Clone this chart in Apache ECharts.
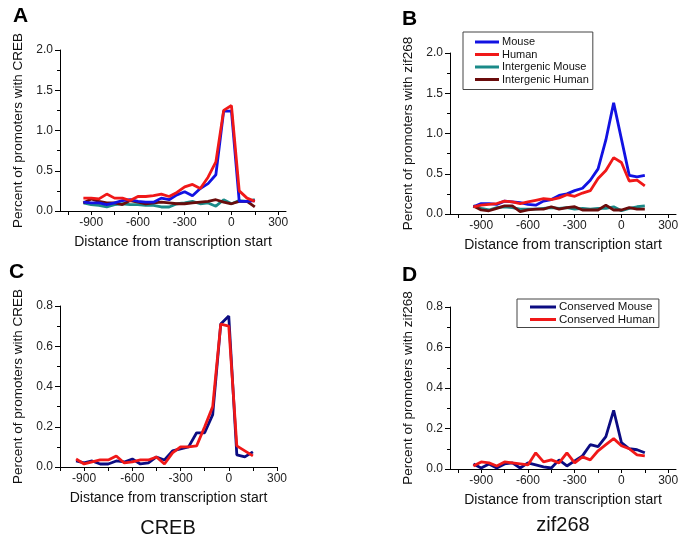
<!DOCTYPE html>
<html>
<head>
<meta charset="utf-8">
<script src="https://cdn.jsdelivr.net/npm/echarts@6/dist/echarts.min.js"></script>
<style>
  html, body { margin: 0; padding: 0; background: #fff; }
  #chart { width: 685px; height: 545px; }
</style>
</head>
<body>
<div id="chart"></div>
<script>
// Distance from transcription start (bp)
const distances = [-950,-900,-850,-800,-750,-700,-650,-600,-550,-500,-450,-400,-350,-300,-250,-200,-150,-100,-50,0,50,100,150];

// Panel A: CREB
const aMouse   = [0.11,0.10,0.10,0.08,0.10,0.13,0.14,0.12,0.11,0.11,0.16,0.14,0.20,0.24,0.19,0.28,0.34,0.45,1.24,1.24,0.12,0.12,0.13];
const aHuman   = [0.16,0.16,0.15,0.21,0.16,0.16,0.13,0.18,0.18,0.19,0.21,0.18,0.23,0.30,0.33,0.28,0.42,0.61,1.25,1.31,0.25,0.16,0.12];
const aIgMouse = [0.10,0.08,0.07,0.05,0.08,0.09,0.08,0.08,0.07,0.07,0.05,0.05,0.09,0.10,0.12,0.09,0.10,0.06,0.14,0.09,0.13,0.12,0.14];
const aIgHuman = [0.10,0.15,0.12,0.10,0.10,0.08,0.13,0.11,0.09,0.10,0.11,0.10,0.09,0.09,0.10,0.11,0.12,0.14,0.11,0.09,0.12,0.12,0.05];

// Panel B: zif268
const bMouse   = [0.09,0.13,0.13,0.12,0.16,0.15,0.14,0.12,0.11,0.16,0.18,0.23,0.25,0.29,0.32,0.42,0.56,0.92,1.38,0.93,0.48,0.46,0.48];
const bHuman   = [0.09,0.11,0.12,0.13,0.16,0.15,0.13,0.15,0.17,0.19,0.18,0.20,0.24,0.22,0.26,0.29,0.44,0.54,0.70,0.64,0.41,0.42,0.35];
const bIgMouse = [0.10,0.07,0.05,0.08,0.09,0.08,0.06,0.06,0.06,0.07,0.08,0.07,0.08,0.06,0.07,0.06,0.07,0.07,0.09,0.04,0.07,0.09,0.10];
const bIgHuman = [0.10,0.05,0.04,0.07,0.10,0.10,0.03,0.05,0.06,0.06,0.09,0.06,0.08,0.09,0.05,0.05,0.05,0.11,0.05,0.05,0.08,0.06,0.06];

// Panel C: conserved CREB
const cMouse = [0.030,0.020,0.030,0.015,0.015,0.030,0.025,0.040,0.015,0.020,0.050,0.035,0.080,0.090,0.100,0.170,0.170,0.260,0.710,0.750,0.060,0.050,0.075];
const cHuman = [0.040,0.015,0.025,0.035,0.035,0.055,0.020,0.025,0.035,0.035,0.050,0.015,0.070,0.100,0.100,0.105,0.200,0.300,0.710,0.700,0.105,0.080,0.055];

// Panel D: conserved zif268
const dMouse = [0.025,0.005,0.025,0.005,0.025,0.030,0.005,0.030,0.020,0.010,0.005,0.045,0.015,0.040,0.065,0.120,0.110,0.160,0.290,0.130,0.100,0.095,0.080];
const dHuman = [0.015,0.035,0.030,0.015,0.035,0.030,0.025,0.020,0.080,0.035,0.045,0.030,0.080,0.030,0.060,0.045,0.090,0.120,0.150,0.115,0.100,0.070,0.065];

// Tick labels
const xLabelValues = [-900,-600,-300,0,300];
const xTickValues = [-1050,-900,-750,-600,-450,-300,-150,0,150,300];

const legendB = ['Mouse','Human','Intergenic Mouse','Intergenic Human'];
const legendD = ['Conserved Mouse','Conserved Human'];

const COL = { blue:'#1212e2', red:'#f01818', teal:'#1a8a88', dred:'#6a0c0c', navy:'#0c0c82' };
const FONT = '"Liberation Sans", Arial, sans-serif';

function pairs(ys){ return distances.map((x,i)=>[x, ys[i]]); }

function xAxisCfg(idx, min, max){
  return {
    type:'value', gridIndex: idx, min: min, max: max,
    name: 'Distance from transcription start', nameLocation:'middle', nameGap: 24,
    nameTextStyle:{ fontFamily: FONT, fontSize: 14, color:'#111' },
    axisLine:{ show:true, onZero:false, lineStyle:{ color:'#000', width:1 } },
    axisTick:{ show:true, inside:false, length:4, customValues: xTickValues, lineStyle:{ color:'#000' } },
    axisLabel:{ show:true, customValues: xLabelValues, fontFamily: FONT, fontSize: 12, color:'#222', margin: 6 },
    splitLine:{ show:false }
  };
}
function yAxisCfg(idx, max, interval, name){
  return {
    type:'value', gridIndex: idx, min: 0, max: max, interval: interval,
    name: name, nameLocation:'middle', nameGap: 35, nameRotate: 90,
    nameTextStyle:{ fontFamily: FONT, fontSize: 13.5, color:'#111' },
    axisLine:{ show:true, onZero:false, lineStyle:{ color:'#000', width:1 } },
    axisTick:{ show:true, inside:false, length:5, lineStyle:{ color:'#000' } },
    minorTick:{ show:true, splitNumber:2, length:3, lineStyle:{ color:'#000' } },
    axisLabel:{ fontFamily: FONT, fontSize: 12, color:'#222', margin: 7,
      formatter: v => v.toFixed(1) },
    splitLine:{ show:false }
  };
}
function line(name, idx, ys, color){
  return { type:'line', name, xAxisIndex: idx, yAxisIndex: idx, data: pairs(ys),
    showSymbol:false, symbol:'none', lineStyle:{ color, width:2.8 }, itemStyle:{ color }, z: 2 };
}

const chart = echarts.init(document.getElementById('chart'), null, { renderer:'canvas' });
chart.setOption({
  animation:false,
  backgroundColor:'#fff',
  grid:[
    { left:60, top:50, width:226, height:161, containLabel:false, outerBoundsMode:'none' },
    { left:450, top:53, width:226, height:161, containLabel:false, outerBoundsMode:'none' },
    { left:60, top:306, width:217, height:161, containLabel:false, outerBoundsMode:'none' },
    { left:450, top:307, width:226, height:162, containLabel:false, outerBoundsMode:'none' }
  ],
  xAxis:[ xAxisCfg(0,-1100,350), xAxisCfg(1,-1100,350), xAxisCfg(2,-1050,300), xAxisCfg(3,-1100,350) ],
  yAxis:[
    yAxisCfg(0, 2, 0.5, 'Percent of promoters with CREB'),
    yAxisCfg(1, 2, 0.5, 'Percent of promoters with zif268'),
    yAxisCfg(2, 0.8, 0.2, 'Percent of promoters with CREB'),
    yAxisCfg(3, 0.8, 0.2, 'Percent of promoters with zif268')
  ],
  legend:[
    { data: legendB, orient:'vertical', left:463, top:32, padding:[4,4,4,12],
      icon:'rect', itemWidth:24, itemHeight:3, itemGap:0.5,
      borderColor:'#444', borderWidth:1, backgroundColor:'#fff',
      textStyle:{ fontFamily: FONT, fontSize:11, color:'#111', lineHeight:12, padding:[0,0,0,-2] } },
    { data: legendD, orient:'vertical', left:517, top:299, padding:[2,4,2,13],
      icon:'rect', itemWidth:26, itemHeight:3, itemGap:0.5,
      borderColor:'#444', borderWidth:1, backgroundColor:'#fff',
      textStyle:{ fontFamily: FONT, fontSize:11.5, color:'#111', lineHeight:12, padding:[0,0,0,-2] } }
  ],
  series:[
    line('A Intergenic Mouse', 0, aIgMouse, COL.teal),
    line('A Intergenic Human', 0, aIgHuman, COL.dred),
    line('A Mouse', 0, aMouse, COL.blue),
    line('A Human', 0, aHuman, COL.red),
    line('Intergenic Mouse', 1, bIgMouse, COL.teal),
    line('Intergenic Human', 1, bIgHuman, COL.dred),
    line('Mouse', 1, bMouse, COL.blue),
    line('Human', 1, bHuman, COL.red),
    line('C Conserved Mouse', 2, cMouse, COL.navy),
    line('C Conserved Human', 2, cHuman, COL.red),
    line('Conserved Mouse', 3, dMouse, COL.navy),
    line('Conserved Human', 3, dHuman, COL.red)
  ],
  graphic:[
    { type:'text', style:{ text:'A', x:13, y:16, font:'bold 21px ' + FONT, fill:'#000', textVerticalAlign:'middle' } },
    { type:'text', style:{ text:'B', x:402, y:19, font:'bold 21px ' + FONT, fill:'#000', textVerticalAlign:'middle' } },
    { type:'text', style:{ text:'C', x:9, y:272, font:'bold 21px ' + FONT, fill:'#000', textVerticalAlign:'middle' } },
    { type:'text', style:{ text:'D', x:402, y:275, font:'bold 21px ' + FONT, fill:'#000', textVerticalAlign:'middle' } },
    { type:'text', style:{ text:'CREB', x:168, y:528, font:'20px ' + FONT, fill:'#111', textAlign:'center', textVerticalAlign:'middle' } },
    { type:'text', style:{ text:'zif268', x:563, y:525, font:'20px ' + FONT, fill:'#111', textAlign:'center', textVerticalAlign:'middle' } }
  ]
});
</script>
</body>
</html>
